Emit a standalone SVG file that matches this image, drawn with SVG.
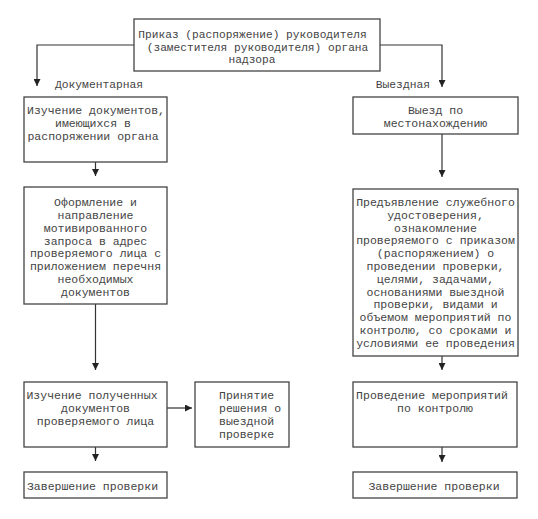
<svg xmlns="http://www.w3.org/2000/svg" width="538" height="519" viewBox="0 0 538 519">
<style>
.box{fill:#fff;stroke:#444;stroke-width:1.3}
.t{font-family:"Liberation Mono","Courier New",monospace;font-size:11.5px;fill:#444;text-anchor:middle}
.ts{font-family:"Liberation Mono","Courier New",monospace;font-size:11.5px;fill:#444}
.c{fill:none;stroke:#333;stroke-width:1.2}
</style>
<defs>
<marker id="ah" markerUnits="userSpaceOnUse" markerWidth="7" markerHeight="7" refX="7" refY="3.5" orient="auto">
<path d="M0,0 L7,3.5 L0,7 z" fill="#222"/>
</marker>
</defs>
<rect width="538" height="519" fill="#fff"/>
<g id="connectors">
<path class="c" d="M134,45 H37 V86" marker-end="url(#ah)"/>
<path class="c" d="M380,45 H442 V87" marker-end="url(#ah)"/>
<path class="c" d="M95.5,162 V176" marker-end="url(#ah)"/>
<path class="c" d="M442,134 V177" marker-end="url(#ah)"/>
<path class="c" d="M95.5,304 V370" marker-end="url(#ah)"/>
<path class="c" d="M442,356 V370" marker-end="url(#ah)"/>
<path class="c" d="M167,408 H192" marker-end="url(#ah)"/>
<path class="c" d="M95.5,447 V461" marker-end="url(#ah)"/>
<path class="c" d="M442,447 V462" marker-end="url(#ah)"/>
</g>
<g id="labels">
<text class="ts" x="55" y="87.5" style="font-size:11.3px">Документарная</text>
<text class="ts" x="430" y="88" style="font-size:11.3px;text-anchor:end">Выездная</text>
</g>
<g id="order">
<rect class="box" x="134" y="19" width="246" height="52"/>
<text class="t" style="font-size:11.2px" x="252.5" y="38">Приказ (распоряжение) руководителя</text>
<text class="t" style="font-size:11.2px" x="257.5" y="50.5">(заместителя руководителя) органа</text>
<text class="t" style="font-size:11.2px" x="252" y="63">надзора</text>
</g>
<g id="study-docs">
<rect class="box" x="24" y="97" width="143" height="65"/>
<text class="t" x="96" y="114">Изучение документов,</text>
<text class="t" x="93" y="127">имеющихся в</text>
<text class="t" x="93" y="140">распоряжении органа</text>
</g>
<g id="visit">
<rect class="box" x="353" y="97" width="165" height="37"/>
<text class="t" x="435.5" y="114">Выезд по</text>
<text class="t" x="435.5" y="127">местонахождению</text>
</g>
<g id="request">
<rect class="box" x="24" y="187" width="143" height="117"/>
<text class="t" x="95.5" y="206">Оформление и</text>
<text class="t" x="95.5" y="218.9">направление</text>
<text class="t" x="95.5" y="231.7">мотивированного</text>
<text class="t" x="95.5" y="244.6">запроса в адрес</text>
<text class="t" x="95.5" y="257.4">проверяемого лица с</text>
<text class="t" x="95.5" y="270.3">приложением перечня</text>
<text class="t" x="95.5" y="283.1">необходимых</text>
<text class="t" x="95.5" y="296">документов</text>
</g>
<g id="presentation">
<rect class="box" x="353" y="189" width="165" height="167"/>
<text class="t" x="435.5" y="206">Предъявление служебного</text>
<text class="t" x="435.5" y="218.8">удостоверения,</text>
<text class="t" x="435.5" y="231.6">ознакомление</text>
<text class="t" x="435.5" y="244.4">проверяемого с приказом</text>
<text class="t" x="435.5" y="257.2">(распоряжением) о</text>
<text class="t" x="435.5" y="270">проведении проверки,</text>
<text class="t" x="435.5" y="282.8">целями, задачами,</text>
<text class="t" x="435.5" y="295.6">основаниями выездной</text>
<text class="t" x="435.5" y="308.4">проверки, видами и</text>
<text class="t" x="435.5" y="321.2">объемом мероприятий по</text>
<text class="t" x="435.5" y="334">контролю, со сроками и</text>
<text class="t" x="435.5" y="346.8">условиями ее проведения</text>
</g>
<g id="study-received">
<rect class="box" x="24" y="382" width="143" height="65"/>
<text class="t" x="92" y="399">Изучение полученных</text>
<text class="t" x="95.5" y="412">документов</text>
<text class="t" x="95.5" y="425">проверяемого лица</text>
</g>
<g id="decision">
<rect class="box" x="195" y="382" width="94" height="65"/>
<text class="ts" x="219" y="399">Принятие</text>
<text class="ts" x="219" y="412">решения о</text>
<text class="ts" x="219" y="425">выездной</text>
<text class="ts" x="219" y="438">проверке</text>
</g>
<g id="measures">
<rect class="box" x="353" y="382" width="164" height="65"/>
<text class="t" x="432" y="399">Проведение мероприятий</text>
<text class="t" x="435" y="412">по контролю</text>
</g>
<g id="end-left">
<rect class="box" x="24" y="472" width="143" height="26"/>
<text class="t" x="92.5" y="489.5">Завершение проверки</text>
</g>
<g id="end-right">
<rect class="box" x="353" y="472" width="164" height="26"/>
<text class="t" x="434" y="489.5">Завершение проверки</text>
</g>
</svg>
